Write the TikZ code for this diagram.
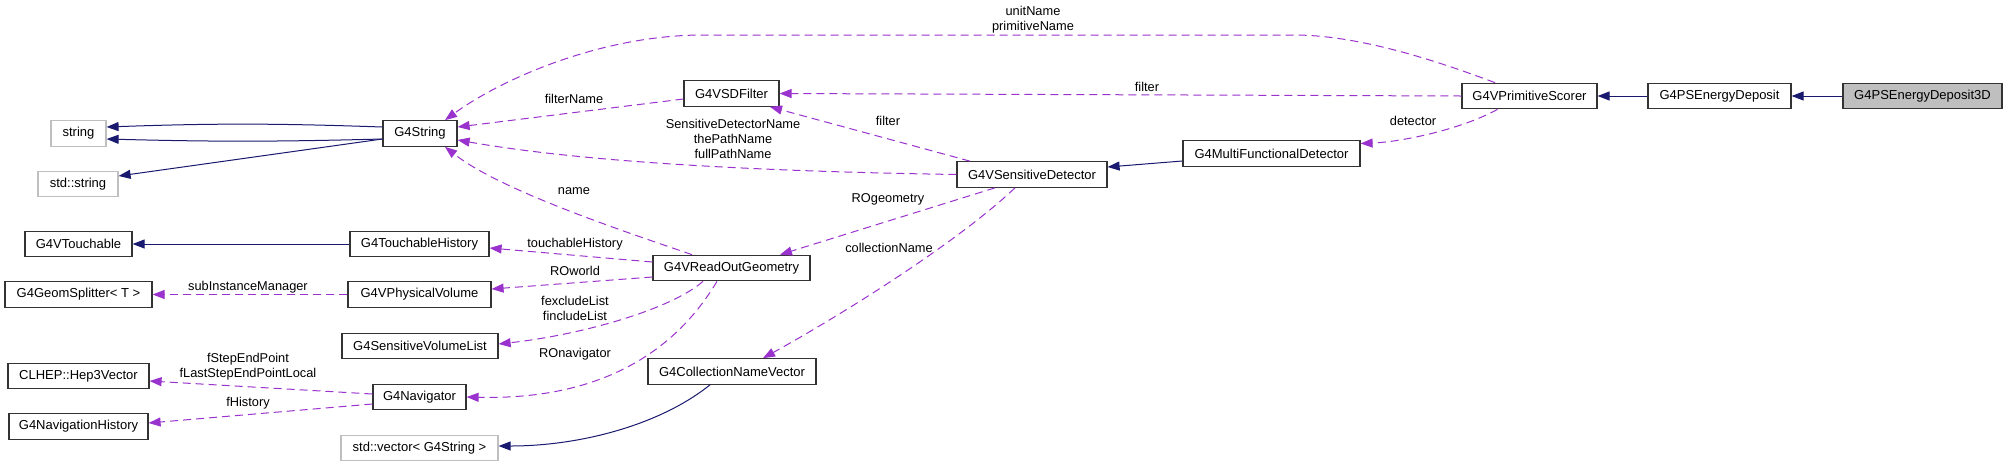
\documentclass[tikz,border=0pt]{standalone}
\usepackage{fontspec}
\setmainfont{Liberation Sans}
\usetikzlibrary{arrows.meta}
\definecolor{inhcol}{HTML}{191970}
\definecolor{usecol}{HTML}{9A32CD}
\definecolor{grayfill}{HTML}{BFBFBF}
\definecolor{grayborder}{HTML}{BFBFBF}
\begin{document}
\begin{tikzpicture}[x=1pt,y=-1pt,
  cls/.style={draw=black!80, line width=1.2pt, fill=white, minimum height=25.5pt, inner sep=0pt, font=\fontsize{13}{15}\selectfont},
  extcls/.style={cls, draw=grayborder},
  curcls/.style={cls, fill=grayfill},
  inhedge/.style={draw=inhcol, line width=1pt, -{Triangle[length=12pt,width=9pt]}},
  useedge/.style={draw=usecol, line width=1pt, dash pattern=on 8pt off 5pt, -{Triangle[length=12pt,width=9pt]}},
  lbl/.style={font=\fontsize{12.8}{15}\selectfont, align=center, inner sep=0pt}
]
\useasboundingbox[fill=white] (0,0) rectangle (2008,467);

% nodes
\node[extcls, minimum width=55pt]  (str)    at (78.5,133.5) {string};
\node[cls, minimum width=74pt]     (g4s)    at (420,133.5) {G4String};
\node[extcls, minimum width=80pt]  (stdstr) at (78,184) {std::string};
\node[cls, minimum width=107pt]    (vt)     at (78.5,244) {G4VTouchable};
\node[cls, minimum width=139pt]    (th)     at (419.5,244) {G4TouchableHistory};
\node[cls, minimum width=147pt]    (gs)     at (78.5,294.5) {G4GeomSplitter< T >};
\node[cls, minimum width=143pt]    (pv)     at (419.5,294.5) {G4VPhysicalVolume};
\node[cls, minimum width=156pt]    (svl)    at (420,346) {G4SensitiveVolumeList};
\node[cls, minimum width=141pt]    (hep)    at (78.5,376) {CLHEP::Hep3Vector};
\node[cls, minimum width=93pt]     (nav)    at (419.5,397) {G4Navigator};
\node[cls, minimum width=139pt]    (nh)     at (78.5,426.5) {G4NavigationHistory};
\node[extcls, minimum width=157pt] (svec)   at (419.5,448) {std::vector< G4String >};
\node[cls, minimum width=95pt]     (sdf)    at (731.5,93.5) {G4VSDFilter};
\node[cls, minimum width=157pt]    (rog)    at (731.5,268) {G4VReadOutGeometry};
\node[cls, minimum width=168pt]    (cnv)    at (732,371.5) {G4CollectionNameVector};
\node[cls, minimum width=150pt]    (vsd)    at (1032,174.5) {G4VSensitiveDetector};
\node[cls, minimum width=177pt]    (mfd)    at (1271.5,153.5) {G4MultiFunctionalDetector};
\node[cls, minimum width=135pt]    (vps)    at (1529.5,96) {G4VPrimitiveScorer};
\node[cls, minimum width=143pt]    (ed)     at (1719.5,96) {G4PSEnergyDeposit};
\node[curcls, minimum width=159pt] (ed3d)   at (1922.5,96) {G4PSEnergyDeposit3D};

% inheritance edges
\draw[inhedge] (ed3d.west) -- (ed.east);
\draw[inhedge] (ed.west) -- (vps.east);
\draw[inhedge] ([yshift=-7.5pt]mfd.west) -- ([yshift=7.5pt]vsd.east);
\draw[inhedge] (th.west) -- (vt.east);
\draw[inhedge] ([yshift=6.5pt]g4s.west) to[bend right=2] ([yshift=6.5pt]str.east);
\draw[inhedge] ([yshift=-5.5pt]g4s.west) to[bend left=1.5] ([yshift=-5.5pt]str.east);
\draw[inhedge] ([yshift=-5.5pt]g4s.west) -- ([yshift=8pt]stdstr.east);
\draw[inhedge] ([xshift=-22pt]cnv.south) .. controls (660,425) and (580,446) .. ([yshift=2pt]svec.east);

% usage edges
\draw[useedge] ([xshift=-34.5pt]vps.north) .. controls (1440,62) and (1360,35) .. (1294,35) -- (703,35) .. controls (600,35) and (500,80) .. ([xshift=25pt]g4s.north);
\draw[useedge] (vps.west) -- (sdf.east);
\draw[useedge] ([xshift=-32pt]vps.south) .. controls (1460,130) and (1400,142) .. ([yshift=10pt]mfd.east);
\draw[useedge] ([xshift=-62pt]vsd.north) -- ([xshift=38.5pt]sdf.south);
\draw[useedge] (vsd.west) .. controls (800,172) and (600,165) .. ([yshift=-6.5pt]g4s.east);
\draw[useedge] ([xshift=-37pt]vsd.south) -- ([xshift=48.5pt]rog.north);
\draw[useedge] ([xshift=-17pt]vsd.south) .. controls (960,240) and (850,310) .. ([xshift=31pt]cnv.north);
\draw[useedge] ([yshift=-5.5pt]sdf.west) -- ([yshift=6.5pt]g4s.east);
\draw[useedge] ([xshift=-39.5pt]rog.north) .. controls (620,230) and (500,190) .. ([xshift=25pt]g4s.south);
\draw[useedge] ([yshift=6pt]rog.west) -- ([yshift=-4pt]th.east);
\draw[useedge] ([yshift=-9pt]rog.west) -- ([yshift=5.5pt]pv.east);
\draw[useedge] ([xshift=-28.5pt]rog.south) .. controls (670,310) and (580,335) .. ([yshift=2pt]svl.east);
\draw[useedge] ([xshift=-14.5pt]rog.south) .. controls (670,360) and (590,400) .. (nav.east);
\draw[useedge] (pv.west) -- (gs.east);
\draw[useedge] ([yshift=3pt]nav.west) -- ([yshift=-5pt]hep.east);
\draw[useedge] ([yshift=-7pt]nav.west) -- ([yshift=3.5pt]nh.east);

% labels
\node[lbl] (lunit)  at (1033,19.5) {unitName\\primitiveName};
\node[lbl] (lfilt1) at (1147,87) {filter};
\node[lbl] (ldet)   at (1413,121) {detector};
\node[lbl] (lfilt2) at (888,121) {filter};
\node[lbl] (lfname) at (574,99) {filterName};
\node[lbl] (lsdn)   at (733,139) {SensitiveDetectorName\\thePathName\\fullPathName};
\node[lbl] (lrog)   at (888,199) {ROgeometry};
\node[lbl] (lcoll)  at (889,248) {collectionName};
\node[lbl] (lname)  at (574,191) {name};
\node[lbl] (lth)    at (575,244) {touchableHistory};
\node[lbl] (lrow)   at (575,271) {ROworld};
\node[lbl] (lfex)   at (575,308) {fexcludeList\\fincludeList};
\node[lbl] (lronav) at (575,354) {ROnavigator};
\node[lbl] (lsub)   at (248,287) {subInstanceManager};
\node[lbl] (lstep)  at (248,366.5) {fStepEndPoint\\fLastStepEndPointLocal};
\node[lbl] (lhist)  at (248,403) {fHistory};
\end{tikzpicture}
\end{document}
